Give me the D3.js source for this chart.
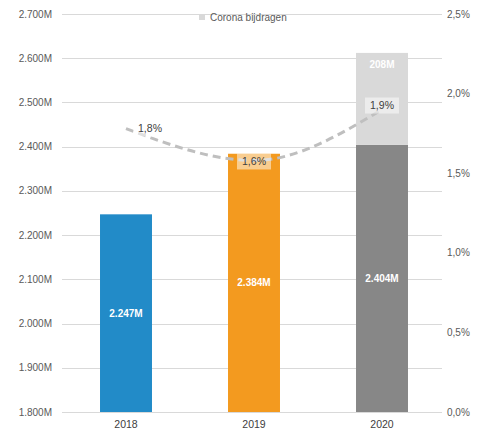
<!DOCTYPE html>
<html>
<head>
<meta charset="utf-8">
<script src="https://cdn.jsdelivr.net/npm/d3@7"></script>
<style>
  body { margin: 0; background: #fff; }
</style>
</head>
<body>
<svg id="chart" width="478" height="437" font-family="Arial, 'Liberation Sans', sans-serif"></svg>
<script>
// data
const years = ['2018', '2019', '2020']
const baseValues = [2247, 2384, 2404]       // in duizenden
const coronaValues = [0, 0, 208]
const baseLabels = ['2.247M', '2.384M', '2.404M']
const coronaLabels = ['', '', '208M']
const pctValues = [1.78, 1.58, 1.9]
const pctLabels = ['1,8%', '1,6%', '1,9%']
const barColors = ['#228bc8', '#f39a1f', '#878787']
const coronaColor = '#d9d9d9'
const leftTicks = [1800, 1900, 2000, 2100, 2200, 2300, 2400, 2500, 2600, 2700]
const rightTicks = [0, 0.5, 1, 1.5, 2, 2.5]

const svg = d3.select('#chart')
const plotLeft = 62
const plotRight = 446
const plotTop = 14
const plotBottom = 412

const x = d3.scaleBand().domain(years).range([plotLeft, plotRight]).padding(0)
const barW = x.bandwidth() * 0.406
const y = d3.scaleLinear().domain([1800, 2700]).range([plotBottom, plotTop])
const y2 = d3.scaleLinear().domain([0, 2.5]).range([plotBottom, plotTop])

const fmtNum = v => d3.format('.3f')(v / 1000)

// rasterlijnen
svg.append('g')
  .selectAll('line')
  .data(leftTicks)
  .join('line')
  .attr('x1', plotLeft)
  .attr('x2', plotRight - 4)
  .attr('y1', d => Math.round(y(d)) + 0.5)
  .attr('y2', d => Math.round(y(d)) + 0.5)
  .attr('stroke', '#d9d9d9')
  .attr('stroke-width', 1)

// linker as
svg.append('g')
  .selectAll('text')
  .data(leftTicks)
  .join('text')
  .attr('x', 52)
  .attr('y', d => y(d))
  .attr('dy', '0.35em')
  .attr('text-anchor', 'end')
  .attr('font-size', 10)
  .attr('fill', '#595959')
  .text(d => fmtNum(d) + 'M')

// rechter as
svg.append('g')
  .selectAll('text')
  .data(rightTicks)
  .join('text')
  .attr('x', 447)
  .attr('y', d => y2(d))
  .attr('dy', '0.35em')
  .attr('font-size', 10)
  .attr('fill', '#595959')
  .text(d => d3.format('.1f')(d).replace('.', ',') + '%')

// x-as labels
svg.append('g')
  .selectAll('text')
  .data(years)
  .join('text')
  .attr('x', d => x(d) + x.bandwidth() / 2)
  .attr('y', 424)
  .attr('dy', '0.35em')
  .attr('text-anchor', 'middle')
  .attr('font-size', 10.5)
  .attr('fill', '#404040')
  .text(d => d)

// staven
const bars = svg.append('g')
bars.selectAll('rect.base')
  .data(years)
  .join('rect')
  .attr('class', 'base')
  .attr('x', d => x(d) + (x.bandwidth() - barW) / 2)
  .attr('width', barW)
  .attr('y', (d, i) => y(baseValues[i]))
  .attr('height', (d, i) => y(1800) - y(baseValues[i]))
  .attr('fill', (d, i) => barColors[i])

bars.selectAll('rect.corona')
  .data(years)
  .join('rect')
  .attr('class', 'corona')
  .attr('x', d => x(d) + (x.bandwidth() - barW) / 2)
  .attr('width', barW)
  .attr('y', (d, i) => y(baseValues[i] + coronaValues[i]))
  .attr('height', (d, i) => y(baseValues[i]) - y(baseValues[i] + coronaValues[i]))
  .attr('fill', coronaColor)

// waarde labels
bars.selectAll('text.base')
  .data(years)
  .join('text')
  .attr('class', 'base')
  .attr('x', d => x(d) + x.bandwidth() / 2)
  .attr('y', (d, i) => (y(baseValues[i]) + y(1800)) / 2)
  .attr('dy', '0.35em')
  .attr('text-anchor', 'middle')
  .attr('font-size', 10)
  .attr('font-weight', 'bold')
  .attr('fill', '#fff')
  .text((d, i) => baseLabels[i])

bars.selectAll('text.corona')
  .data(years.filter((d, i) => coronaValues[i] > 0))
  .join('text')
  .attr('class', 'corona')
  .attr('x', d => x(d) + x.bandwidth() / 2)
  .attr('y', d => y(baseValues[years.indexOf(d)] + coronaValues[years.indexOf(d)]) + 12)
  .attr('dy', '0.35em')
  .attr('text-anchor', 'middle')
  .attr('font-size', 10)
  .attr('font-weight', 'bold')
  .attr('fill', '#fff')
  .text(d => coronaLabels[years.indexOf(d)])

// percentage lijn
const pts = years.map((d, i) => [x(d) + x.bandwidth() / 2, y2(pctValues[i])])
svg.append('path')
  .attr('d', d3.line().curve(d3.curveMonotoneX)(pts))
  .attr('fill', 'none')
  .attr('stroke', '#bfbfbf')
  .attr('stroke-width', 3)
  .attr('stroke-dasharray', '8,5')

// percentage labels
const labelOffsets = [[24, 0], [0, 1], [0, -4]]
const pl = svg.append('g')
pts.forEach((p, i) => {
  const cx = p[0] + labelOffsets[i][0]
  const cy = p[1] + labelOffsets[i][1]
  pl.append('rect')
    .attr('x', cx - 17)
    .attr('y', cy - 8)
    .attr('width', 34)
    .attr('height', 16)
    .attr('fill', '#fff')
    .attr('fill-opacity', 0.5)
  pl.append('text')
    .attr('x', cx)
    .attr('y', cy)
    .attr('dy', '0.35em')
    .attr('text-anchor', 'middle')
    .attr('font-size', 10.5)
    .attr('fill', '#404040')
    .text(pctLabels[i])
})

// legenda
const lg = svg.append('g').attr('transform', 'translate(199,14)')
lg.append('rect').attr('width', 6).attr('height', 6).attr('fill', coronaColor)
lg.append('text')
  .attr('x', 11)
  .attr('y', 3)
  .attr('dy', '0.35em')
  .attr('font-size', 10)
  .attr('fill', '#595959')
  .text('Corona bijdragen')
</script>
</body>
</html>
